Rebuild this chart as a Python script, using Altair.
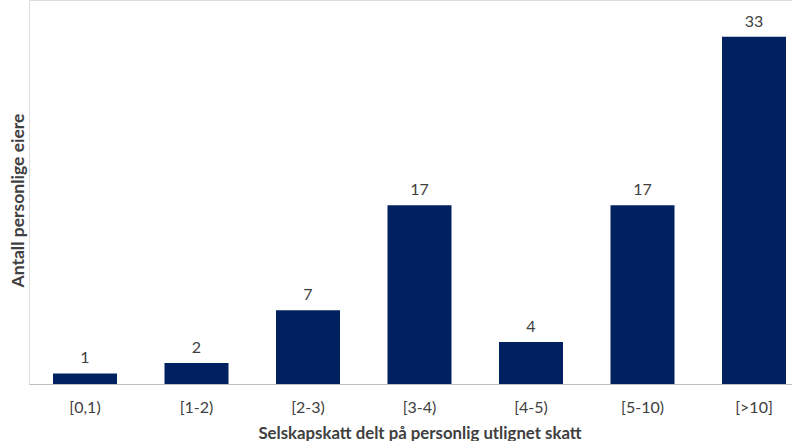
import altair as alt
import pandas as pd

# Ratio buckets and owner counts
categories = ["[0,1)", "[1-2)", "[2-3)", "[3-4)", "[4-5)", "[5-10)", "[>10]"]
counts = [1, 2, 7, 17, 4, 17, 33]

df = pd.DataFrame({"bucket": categories, "owners": counts})

FONT = "Lato"
BAR = "#002060"
TEXT = "#404040"

x = alt.X(
    "bucket:N",
    sort=categories,
    scale=alt.Scale(paddingInner=0.426, paddingOuter=0.1345, align=0.8),
    axis=alt.Axis(
        title="Selskapskatt delt på personlig utlignet skatt",
        labelAngle=0,
        labelFont=FONT,
        labelFontSize=16,
        labelColor=TEXT,
        labelPadding=15,
        ticks=False,
        domainColor="#bfbfbf",
        domainWidth=1,
        titleFont=FONT,
        titleFontSize=16.8,
        titleFontWeight="bold",
        titleColor=TEXT,
        titleX=390.5,
        titleY=49,
        titleBaseline="middle",
    ),
)
y = alt.Y(
    "owners:Q",
    scale=alt.Scale(domain=[0, 36.5], nice=False),
    axis=alt.Axis(
        title="Antall personlige eiere",
        labels=False,
        ticks=False,
        domain=False,
        grid=False,
        titleFont=FONT,
        titleFontSize=17.5,
        titleFontWeight="bold",
        titleColor=TEXT,
        titleAngle=270,
        titleX=-11,
        titleY=200,
        titleAlign="center",
        titleBaseline="middle",
    ),
)

bars = alt.Chart(df).mark_bar(color=BAR).encode(x=x, y=y)
labels = alt.Chart(df).mark_text(
    font=FONT, fontSize=16, color=TEXT, baseline="bottom", dy=-7
).encode(x=x, y=y, text="owners:Q")

chart = (
    (bars + labels)
    .properties(
        width=763,
        height=384,
        autosize=alt.AutoSizeParams(type="none"),
        padding={"left": 29, "top": 0, "right": 0, "bottom": 57},
    )
    .configure_view(stroke=None)
    .configure(background="white")
)

chart.save("out.html", embed_options={"renderer": "svg", "actions": False})
